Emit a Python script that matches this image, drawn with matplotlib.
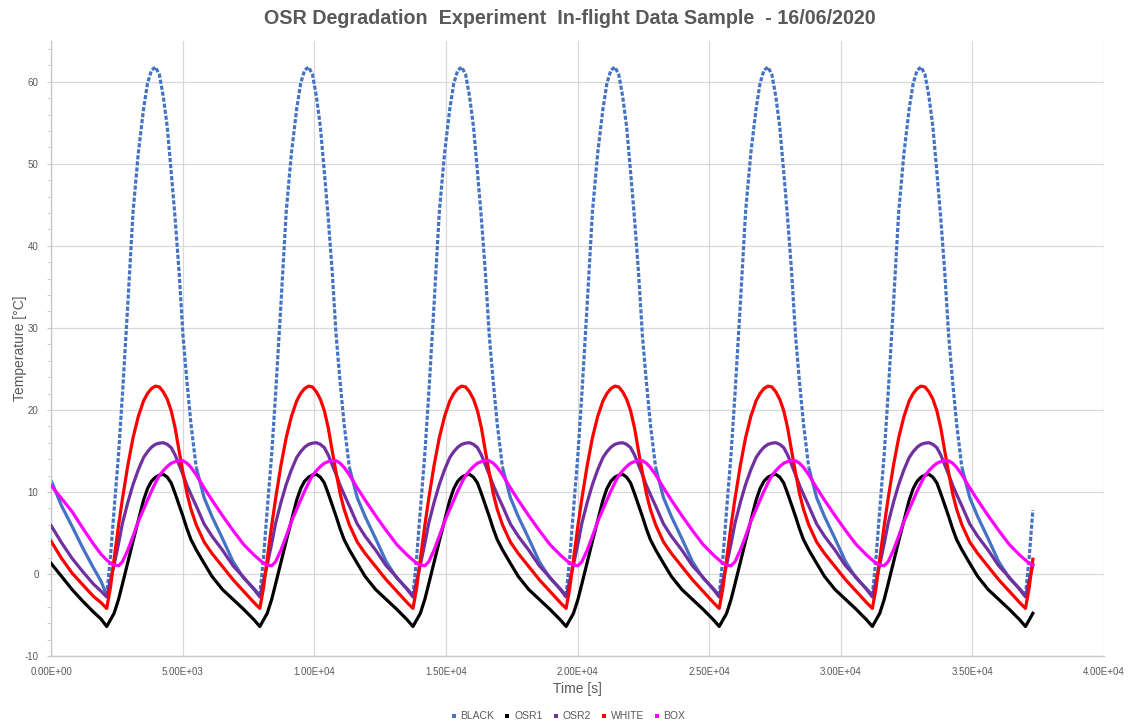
import numpy as np
import matplotlib.pyplot as plt
from matplotlib.lines import Line2D
from matplotlib.ticker import MultipleLocator, FuncFormatter

plt.rcParams['font.family'] = ['Liberation Sans', 'DejaVu Sans']

series = ['BLACK', 'OSR1', 'OSR2', 'WHITE', 'BOX']
colors = ['#4472C4', '#000000', '#7030A0', '#FF0000', '#FF00FF']

# partial orbit before the first eclipse minimum, time [s] and temperature [degC]
head_t = [0, 400, 800, 1200, 1600, 1900]
head_black = [11.4, 8.3, 5.8, 3.2, 0.8, -0.9]
head_osr1 = [1.3, -0.3, -1.9, -3.3, -4.6, -5.5]
head_osr2 = [5.9, 3.8, 1.9, 0.3, -1.2, -2.1]
head_white = [4.0, 1.9, 0.1, -1.3, -2.7, -3.5]
head_box = [10.8, 9.2, 7.6, 5.6, 3.7, 2.4]

# one orbit, seconds after the eclipse minimum
phase = [0, 140, 280, 450, 600, 800, 1000, 1200, 1400, 1550, 1700, 1850, 2000, 2150,
         2300, 2450, 2600, 2750, 2900, 3050, 3200, 3400, 3700, 4000, 4400, 4800, 5200, 5600]
orbit_black = [-2.6, 2.0, 7.8, 14.6, 22.0, 32.8, 44.1, 51.3, 56.7, 59.8, 61.4, 61.8, 60.9, 58.2,
               54.5, 49.0, 43.3, 36.8, 29.0, 23.4, 18.3, 13.0, 9.3, 7.0, 4.3, 1.5, -0.5, -1.8]
orbit_osr1 = [-6.4, -5.6, -4.8, -3.1, -1.2, 1.4, 4.0, 6.5, 9.0, 10.4, 11.3, 11.8, 12.05, 12.15,
              11.8, 11.1, 9.8, 8.4, 7.0, 5.5, 4.2, 2.95, 1.3, -0.3, -1.9, -3.1, -4.3, -5.6]
orbit_osr2 = [-2.8, -0.8, 1.1, 3.7, 6.2, 8.7, 10.9, 12.7, 14.2, 14.9, 15.45, 15.8, 15.95, 16.0,
              15.8, 15.4, 14.5, 13.3, 12.1, 10.8, 9.7, 8.3, 6.1, 4.6, 2.9, 1.0, -0.4, -1.9]
orbit_white = [-4.2, -1.7, 1.8, 5.9, 9.2, 13.2, 16.6, 19.2, 21.1, 22.0, 22.6, 22.9, 22.8, 22.2,
               21.3, 19.9, 17.8, 15.0, 12.3, 9.8, 7.9, 6.0, 3.9, 2.5, 0.9, -0.7, -2.1, -3.5]
orbit_box = [1.7, 1.3, 1.1, 1.0, 1.5, 2.9, 4.6, 6.4, 7.9, 9.0, 10.1, 11.1, 12.0, 12.6,
             13.1, 13.5, 13.7, 13.8, 13.8, 13.5, 13.0, 12.1, 10.5, 9.0, 7.1, 5.3, 3.6, 2.3]

orbit_start = 2114
period = 5817
n_orbits = 7
t_end = 37300

heads = [head_black, head_osr1, head_osr2, head_white, head_box]
orbits = [orbit_black, orbit_osr1, orbit_osr2, orbit_white, orbit_box]


def build(head_vals, orbit_vals):
    ph = np.array(phase)
    k = np.arange(n_orbits)[:, None]
    t = (orbit_start + k * period + ph[None, :]).ravel()
    t = np.concatenate([head_t, t])
    v = np.concatenate([head_vals, np.tile(orbit_vals, n_orbits)])
    p = np.concatenate([np.full(len(head_t), 9999), np.tile(ph, n_orbits)])
    keep = t <= t_end
    return t[keep], v[keep], p[keep]


fig = plt.figure(figsize=(11.32, 7.28), dpi=100)
ax = fig.add_axes([0.0451, 0.0989, 0.9302, 0.8451])

for i, (name, col) in enumerate(zip(series, colors)):
    t, v, p = build(heads[i], orbits[i])
    if name == 'BLACK':
        # sparse samples on the fast warm-up / cool-down look dotted
        steep = p <= 3200
        edges = np.flatnonzero(np.diff(steep.astype(int))) + 1
        starts = np.r_[0, edges]
        ends = np.r_[edges, len(t)]
        for s, e in zip(starts, ends):
            e2 = min(e + 1, len(t))
            ls = (0, (1.3, 0.6)) if steep[s] else '-'
            ax.plot(t[s:e2], v[s:e2], color=col, lw=2.3, ls=ls,
                    solid_capstyle='butt', solid_joinstyle='round', zorder=2 + i)
    else:
        ax.plot(t, v, color=col, lw=2.3, solid_joinstyle='round', zorder=2 + i)

ax.set_xlim(0, 40000)
ax.set_ylim(-10, 65)
ax.xaxis.set_major_locator(MultipleLocator(5000))
ax.yaxis.set_major_locator(MultipleLocator(10))
ax.yaxis.set_minor_locator(MultipleLocator(2))
ax.xaxis.set_major_formatter(FuncFormatter(lambda x, pos: f'{x:.2E}'))
ax.yaxis.set_major_formatter(FuncFormatter(lambda y, pos: f'{y:.0f}'))
ax.grid(True, which='major', color='#d9d9d9', lw=0.9)
ax.set_axisbelow(True)

for side in ['top', 'right']:
    ax.spines[side].set_visible(False)
for side in ['left', 'bottom']:
    ax.spines[side].set_color('#c8c8c8')
    ax.spines[side].set_linewidth(1.0)

ax.tick_params(axis='x', length=0, pad=8, labelsize=7, labelcolor='#595959')
ax.tick_params(axis='y', which='both', length=3, color='#c8c8c8', direction='out',
               pad=6, labelsize=7, labelcolor='#595959')

ax.set_xlabel('Time [s]', fontsize=10, color='#595959')
ax.xaxis.set_label_coords(0.5, -0.042)
ax.set_ylabel('Temperature [°C]', fontsize=10, color='#595959')
ax.yaxis.set_label_coords(-0.0225, 0.5)

fig.text(0.503, 0.975, 'OSR Degradation  Experiment  In-flight Data Sample  - 16/06/2020',
         ha='center', va='center', fontsize=14.2, fontweight='bold', color='#595959')

handles = [Line2D([], [], ls='none', marker='s', markersize=2.2, color=c,
                  markeredgewidth=0) for c in colors]
fig.legend(handles, series, loc='center', bbox_to_anchor=(0.502, 0.016), ncol=5,
           frameon=False, fontsize=7.5, handlelength=0.5, handletextpad=0.4,
           columnspacing=1.0, labelcolor='#595959')

fig.savefig('out.png', dpi=100)
